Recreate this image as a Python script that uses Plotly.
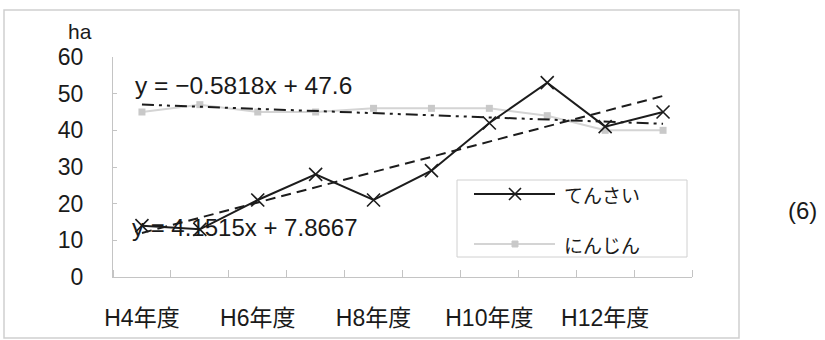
import numpy as np
import plotly.graph_objects as go

# Fiscal years (Heisei) and planted area in ha
years = ["H4年度", "H5年度", "H6年度", "H7年度", "H8年度",
         "H9年度", "H10年度", "H11年度", "H12年度", "H13年度"]
tensai = [14, 13, 21, 28, 21, 29, 42, 53, 41, 45]      # てんさい
ninjin = [45, 47, 45, 45, 46, 46, 46, 44, 40, 40]      # にんじん
y_ticks = [0, 10, 20, 30, 40, 50, 60]

xpos = np.arange(1, len(years) + 1)

# Linear trend lines (least squares, x = 1..n)
t_slope, t_icpt = np.polyfit(xpos, tensai, 1)
n_slope, n_icpt = np.polyfit(xpos, ninjin, 1)


def eq_label(slope, icpt):
    s = f"{round(slope, 4):g}".replace("-", "−")
    return f"y = {s}x + {round(icpt, 4):g}"


# Page geometry (pixels)
W, H = 825, 340
PL, PR, PT, PB = 113, 692, 57, 277


def px(x):
    return (x - PL) / (PR - PL)


def py(y):
    return (PB - y) / (PB - PT)


FONT = "Liberation Sans, Noto Sans CJK JP"
JFONT = "Noto Sans CJK JP"
TXT = "#1a1a1a"
AXC = "#c4c4c4"

fig = go.Figure()

fig.add_trace(go.Scatter(
    x=xpos, y=ninjin, mode="lines+markers", name="にんじん",
    line=dict(color="#d4d4d4", width=2),
    marker=dict(symbol="square", size=7, color="#c9c9c9"),
))
fig.add_trace(go.Scatter(
    x=xpos, y=tensai, mode="lines+markers", name="てんさい",
    line=dict(color="#1c1c1c", width=2),
    marker=dict(symbol="x-thin", size=13, color="#1c1c1c",
                line=dict(width=1.6, color="#1c1c1c")),
))
fig.add_trace(go.Scatter(
    x=xpos, y=t_slope * xpos + t_icpt, mode="lines", showlegend=False,
    line=dict(color="#1c1c1c", width=2, dash="10px,6px"),
))
fig.add_trace(go.Scatter(
    x=xpos, y=n_slope * xpos + n_icpt, mode="lines", showlegend=False,
    line=dict(color="#1c1c1c", width=2, dash="12px,5px,3px,5px,3px,5px"),
))


def label(text, x, y, size, xanchor="left", family=FONT):
    return dict(text=text, x=px(x), y=py(y), xref="paper", yref="paper",
                xanchor=xanchor, yanchor="middle", showarrow=False,
                font=dict(size=size, color=TXT, family=family))


annotations = [
    label("ha", 80, 31, 21, xanchor="center"),
    label(eq_label(n_slope, n_icpt), 133, 85, 24.5),
    label(eq_label(t_slope, t_icpt), 130, 227, 24),
    label("てんさい", 562, 194, 19, family=JFONT),
    label("にんじん", 562, 244, 19, family=JFONT),
    label("(6)", 802, 210, 24, xanchor="center"),
]

shapes = [
    # outer chart frame
    dict(type="rect", xref="paper", yref="paper",
         x0=px(4), x1=px(739), y0=py(338), y1=py(10),
         line=dict(color="#cfcfcf", width=1.5), layer="below"),
    # legend frame
    dict(type="rect", xref="paper", yref="paper",
         x0=px(457), x1=px(687), y0=py(257), y1=py(180),
         line=dict(color="#d0d0d0", width=1), fillcolor="white", layer="below"),
    # legend keys
    dict(type="line", xref="paper", yref="paper",
         x0=px(474), x1=px(555), y0=py(194), y1=py(194),
         line=dict(color="#1c1c1c", width=2)),
    dict(type="path", xref="paper", yref="paper",
         path=(f"M{px(509)},{py(188)} L{px(521)},{py(200)} "
               f"M{px(509)},{py(200)} L{px(521)},{py(188)}"),
         line=dict(color="#1c1c1c", width=1.6)),
    dict(type="line", xref="paper", yref="paper",
         x0=px(474), x1=px(555), y0=py(244), y1=py(244),
         line=dict(color="#d4d4d4", width=2)),
    dict(type="rect", xref="paper", yref="paper",
         x0=px(512), x1=px(518), y0=py(247), y1=py(241),
         line=dict(color="#c9c9c9", width=1), fillcolor="#c9c9c9"),
]

fig.update_layout(
    width=W, height=H,
    margin=dict(l=PL, r=W - PR, t=PT, b=H - PB),
    paper_bgcolor="white", plot_bgcolor="white",
    showlegend=False,
    font=dict(family=FONT, color=TXT),
    annotations=annotations, shapes=shapes,
    xaxis=dict(
        range=[0.5, len(years) + 0.5], automargin=False,
        tickmode="array", tickvals=list(xpos[::2]), ticktext=years[::2],
        ticks="", showgrid=False, zeroline=False,
        showline=True, linecolor=AXC, linewidth=1,
        tickfont=dict(size=23, color=TXT, family=FONT),
        ticklabelstandoff=20,
        minor=dict(tickmode="linear", tick0=0.5, dtick=1, ticks="inside",
                   ticklen=7, tickcolor=AXC, showgrid=False),
    ),
    yaxis=dict(
        range=[0, 60], automargin=False,
        tickmode="array", tickvals=y_ticks,
        ticks="inside", ticklen=4, tickcolor=AXC,
        showgrid=False, zeroline=False,
        showline=True, linecolor=AXC, linewidth=1,
        tickfont=dict(size=23, color=TXT, family=FONT),
        ticklabelstandoff=24,
    ),
)

fig.write_html("out.html")
